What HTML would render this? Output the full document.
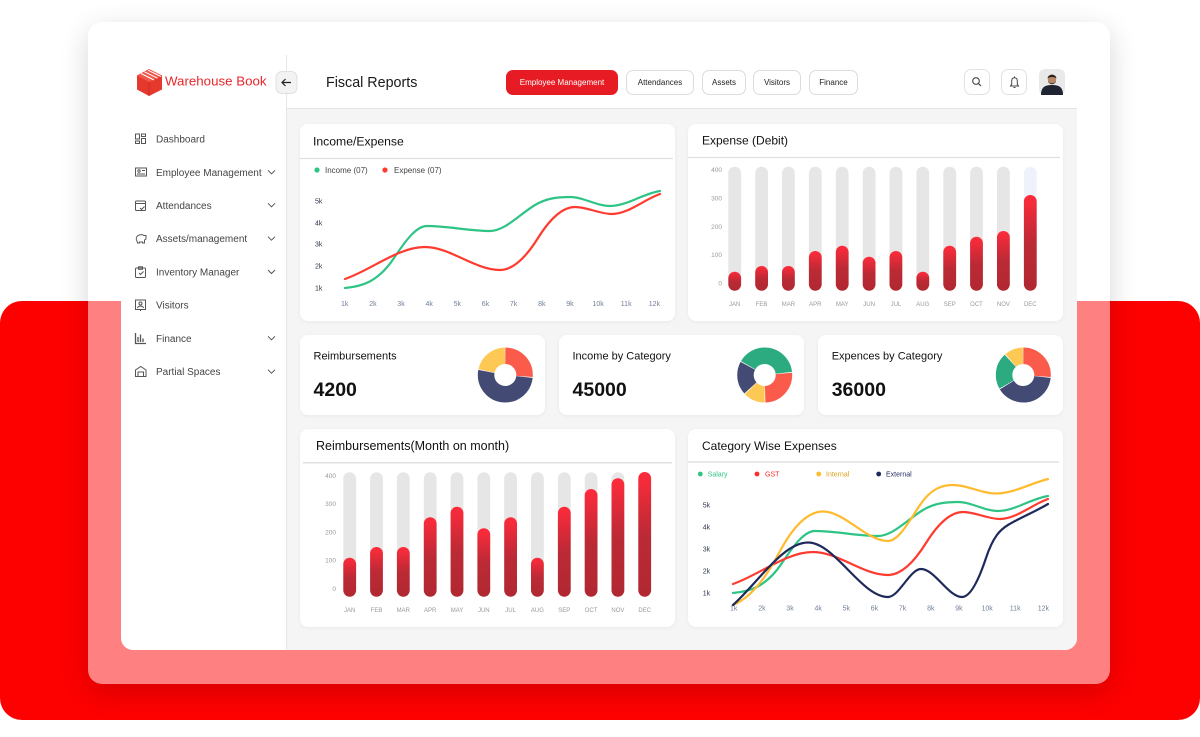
<!DOCTYPE html>
<html><head><meta charset="utf-8">
<style>
*{margin:0;padding:0;box-sizing:border-box}
body{width:1200px;height:737px;overflow:hidden;background:#fff;position:relative;font-family:"Liberation Sans",sans-serif}
.abs{position:absolute}
.redbg{left:0;top:301px;width:1200px;height:419px;background:#fd0000;border-radius:22px}
.frame{left:88px;top:22px;width:1022px;height:662px;border-radius:14px;background:rgba(255,255,255,.5);box-shadow:0 8px 28px rgba(0,0,0,.16)}
.panel{left:121px;top:55px;width:956px;height:595px;background:#fff;border-radius:12px}
.main{left:287px;top:109px;width:790px;height:541px;background:#f5f5f5;border-bottom-right-radius:12px}
.card{position:absolute;background:#fff;border-radius:8px;box-shadow:0 1px 4px rgba(0,0,0,.05)}
.btn{position:absolute;height:25px;top:70px;border:1px solid #dcdcdc;border-radius:7px;background:#fff;font-size:8px;color:#222;display:flex;align-items:center;justify-content:center;white-space:nowrap}
.ib{position:absolute;top:69px;width:26px;height:26px;border:1px solid #e2e2e2;border-radius:7px;background:#fff}
</style></head><body>
<div class="abs redbg"></div>
<div class="abs frame"></div>
<div class="abs panel"></div>
<div class="abs main"></div>
<div class="abs" style="left:286px;top:55px;width:1px;height:595px;background:#e6e6e6"></div>
<div class="abs" style="left:287px;top:108px;width:790px;height:1px;background:#e4e4e4"></div>

<div class="card" style="left:300px;top:124px;width:375px;height:197px"></div>
<div class="card" style="left:688px;top:124px;width:375px;height:197px"></div>
<div class="card" style="left:300px;top:335px;width:245px;height:80px"></div>
<div class="card" style="left:559px;top:335px;width:245px;height:80px"></div>
<div class="card" style="left:818px;top:335px;width:245px;height:80px"></div>
<div class="card" style="left:300px;top:429px;width:375px;height:198px"></div>
<div class="card" style="left:688px;top:429px;width:375px;height:198px"></div>

<div class="btn" style="left:506px;width:112px;background:#e61b24;border-color:#e61b24;color:#fff">Employee Management</div>
<div class="btn" style="left:626px;width:68px">Attendances</div>
<div class="btn" style="left:702px;width:44px">Assets</div>
<div class="btn" style="left:753px;width:48px">Visitors</div>
<div class="btn" style="left:809px;width:49px">Finance</div>
<div class="ib" style="left:964px"></div>
<div class="ib" style="left:1001px"></div>
<div class="abs" style="left:1039px;top:69px;width:26px;height:26px;border-radius:6px;background:#e9e9e9;overflow:hidden"></div>

<svg class="abs" style="left:0;top:0" width="1200" height="737" viewBox="0 0 1200 737">
<defs>
<linearGradient id="bg" x1="0" y1="0" x2="0" y2="1">
<stop offset="0" stop-color="#ff2b3b"/><stop offset=".5" stop-color="#bb2a35"/><stop offset="1" stop-color="#b12831"/>
</linearGradient>
</defs>

<!-- logo -->
<polygon points="149,69 162,75.5 162,89.5 149,96 137,89.5 137,75.5" fill="#e5392e"/>
<polygon points="149,69 162,75.5 149,82 137,75.5" fill="#f0574a"/>
<path d="M141,73.5 L154,80 M144.5,71.8 L157.5,78.2 M148,70.2 L161,76.5" stroke="#fff" stroke-width="1"/>
<line x1="149" y1="82" x2="149" y2="96" stroke="#c92a22" stroke-width=".8"/>
<text x="165" y="85.4" font-size="13.3" fill="#e8262b">Warehouse Book</text>

<!-- back button -->
<rect x="276" y="71.5" width="21" height="22" rx="6" fill="#f3f3f3" stroke="#e0e0e0"/>
<path d="M291,82.5 H282 M285.5,79 L282,82.5 L285.5,86" stroke="#222" stroke-width="1.2" fill="none"/>

<!-- header -->
<text x="326" y="87" font-size="14.3" fill="#1a1a1a">Fiscal Reports</text>
<circle cx="976" cy="81" r="3.3" fill="none" stroke="#444" stroke-width="1.1"/>
<line x1="978.4" y1="83.4" x2="981" y2="86" stroke="#444" stroke-width="1.2"/>
<path d="M1010.5,86 H1018.5 L1017.3,84.3 V80.5 A2.8,2.8 0 0 0 1011.7,80.5 V84.3 Z M1013.5,87.5 H1015.5" fill="none" stroke="#444" stroke-width="1"/>
<line x1="1014.5" y1="76.5" x2="1014.5" y2="77.7" stroke="#444" stroke-width="1"/>
<!-- avatar -->
<path d="M1041,95 C1041,87 1045,85 1052,85 C1059,85 1063,87 1063,95 Z" fill="#1f2433"/>
<ellipse cx="1052" cy="79.5" rx="4.2" ry="5" fill="#b88868"/>
<path d="M1047.6,78.5 C1047.6,73.5 1056.4,73.5 1056.4,78.5 C1055,76.5 1049,76.5 1047.6,78.5Z" fill="#2b211c"/>
<path d="M1048,81 C1048.5,85 1055.5,85 1056,81 C1055,84 1049,84 1048,81Z" fill="#3a2a22"/>

<!-- sidebar -->
<g font-size="10" fill="#444">
<text x="156" y="142.5">Dashboard</text>
<text x="156" y="175.8">Employee Management</text>
<text x="156" y="208.8">Attendances</text>
<text x="156" y="242.2">Assets/management</text>
<text x="156" y="275.5">Inventory Manager</text>
<text x="156" y="308.5">Visitors</text>
<text x="156" y="341.8">Finance</text>
<text x="156" y="375.2">Partial Spaces</text>
</g>
<g fill="none" stroke="#555" stroke-width="1">
<rect x="135.5" y="134" width="4" height="5"/><rect x="141.5" y="134" width="4" height="2.5"/><rect x="135.5" y="141" width="4" height="2.5"/><rect x="141.5" y="138.5" width="4" height="5"/>
<rect x="135.5" y="168" width="11" height="8"/><circle cx="139" cy="171" r="1.2"/><line x1="142" y1="170.5" x2="145" y2="170.5"/><line x1="137" y1="174" x2="145" y2="174"/>
<rect x="135.5" y="201" width="10" height="9.5" rx="1"/><line x1="135.5" y1="203.5" x2="145.5" y2="203.5"/><path d="M140,208 l1.5,1.5 l3,-3"/>
<path d="M137,241 C134,236 141,233 144,235.5 L146,235.5 L146,239 L144.5,240 L144.5,243 L142.5,243 L142.5,242 L139.5,242 L139.5,243 L137.5,243 Z"/>
<rect x="135.5" y="268" width="10" height="9.5" rx="1"/><rect x="138.5" y="266.8" width="4" height="2.5"/><path d="M139,273 l1.5,1.5 l3,-3"/>
<rect x="135.5" y="300" width="10" height="9.5"/><circle cx="140.5" cy="303.5" r="1.5"/><path d="M137.5,308 C138,305.5 143,305.5 143.5,308"/><line x1="140.5" y1="309.5" x2="140.5" y2="311"/>
<path d="M135.5,333 V343.5 H146 M138,342 V337 M140.5,342 V334.5 M143,342 V338.5" stroke-width="1.3"/>
<path d="M135.5,376.5 V370 L140.8,366.5 L146,370 V376.5 Z M138,376.5 V372 H143.5 V376.5"/>
</g>
<g fill="none" stroke="#555" stroke-width="1">
<polyline points="268,170.3 271.5,173.8 275,170.3"/>
<polyline points="268,203.3 271.5,206.8 275,203.3"/>
<polyline points="268,236.7 271.5,240.2 275,236.7"/>
<polyline points="268,270 271.5,273.5 275,270"/>
<polyline points="268,336.3 271.5,339.8 275,336.3"/>
<polyline points="268,369.7 271.5,373.2 275,369.7"/>
</g>

<!-- ===== Card 1: Income/Expense ===== -->
<text x="313" y="145.5" font-size="12.2" fill="#111">Income/Expense</text>
<line x1="300" y1="158.5" x2="673" y2="158.5" stroke="#e0e0e0" stroke-width="1.3"/>
<circle cx="317" cy="170" r="2.6" fill="#2ec486"/>
<text x="325" y="172.8" font-size="8" fill="#444">Income (07)</text>
<circle cx="385" cy="170" r="2.6" fill="#ff3b30"/>
<text x="394" y="172.8" font-size="8" fill="#444">Expense (07)</text>
<g font-size="7" fill="#2d3748">
<text x="315" y="203.5">5k</text><text x="315" y="225.5">4k</text><text x="315" y="246.5">3k</text><text x="315" y="268.5">2k</text><text x="315" y="290.5">1k</text>
</g>
<g font-size="7" fill="#718096" text-anchor="middle">
<text x="344.7" y="306">1k</text><text x="372.9" y="306">2k</text><text x="401" y="306">3k</text><text x="429.2" y="306">4k</text><text x="457.3" y="306">5k</text><text x="485.5" y="306">6k</text><text x="513.6" y="306">7k</text><text x="541.8" y="306">8k</text><text x="569.9" y="306">9k</text><text x="598.1" y="306">10k</text><text x="626.2" y="306">11k</text><text x="654.4" y="306">12k</text>
</g>
<g fill="none" stroke-width="2.2" stroke-linecap="round">
<path id="g1" stroke="#2ec486" d="M345,288 C361.3,286.4 377.7,282.5 394,258 C405,241.5 416,226 427,226 C448,226 469,231 490,231 C505,231 520,214 535,205 C546.7,198 558.3,197 570,197 C583.3,197 596.7,206 610,206 C626.7,206 643.3,193.5 660,191"/>
<path stroke="#ff3b30" d="M345,279 C371.7,269.7 398.3,247 425,247 C450,247 475,270 500,270 C512.7,270 525.3,258.3 538,238 C550.3,218.3 562.7,207 575,207 C587.3,207 599.7,214 612,214 C628,214 644,199.6 660,194"/>
</g>

<!-- ===== Card 2: Expense (Debit) ===== -->
<text x="702" y="144.5" font-size="12" fill="#111">Expense (Debit)</text>
<line x1="688" y1="157.5" x2="1060" y2="157.5" stroke="#e0e0e0" stroke-width="1.3"/>
<g font-size="6.5" fill="#999" text-anchor="end">
<text x="722" y="172.2">400</text><text x="722" y="200.5">300</text><text x="722" y="228.9">200</text><text x="722" y="257.2">100</text><text x="722" y="285.5">0</text>
</g>
<g fill="#e6e6e6">
<rect x="728.3" y="166.7" width="12.8" height="124" rx="6.4"/>
<rect x="755.2" y="166.7" width="12.8" height="124" rx="6.4"/>
<rect x="782" y="166.7" width="12.8" height="124" rx="6.4"/>
<rect x="808.9" y="166.7" width="12.8" height="124" rx="6.4"/>
<rect x="835.8" y="166.7" width="12.8" height="124" rx="6.4"/>
<rect x="862.7" y="166.7" width="12.8" height="124" rx="6.4"/>
<rect x="889.5" y="166.7" width="12.8" height="124" rx="6.4"/>
<rect x="916.4" y="166.7" width="12.8" height="124" rx="6.4"/>
<rect x="943.3" y="166.7" width="12.8" height="124" rx="6.4"/>
<rect x="970.1" y="166.7" width="12.8" height="124" rx="6.4"/>
<rect x="997" y="166.7" width="12.8" height="124" rx="6.4"/>
<rect x="1023.9" y="166.7" width="12.8" height="124" rx="6.4" fill="#eef3fb"/>
</g>
<g fill="url(#bg)">
<rect x="728.3" y="271.7" width="12.8" height="19" rx="6.4"/>
<rect x="755.2" y="266" width="12.8" height="24.7" rx="6.4"/>
<rect x="782" y="266" width="12.8" height="24.7" rx="6.4"/>
<rect x="808.9" y="251" width="12.8" height="39.7" rx="6.4"/>
<rect x="835.8" y="245.7" width="12.8" height="45" rx="6.4"/>
<rect x="862.7" y="256.7" width="12.8" height="34" rx="6.4"/>
<rect x="889.5" y="251" width="12.8" height="39.7" rx="6.4"/>
<rect x="916.4" y="271.7" width="12.8" height="19" rx="6.4"/>
<rect x="943.3" y="245.7" width="12.8" height="45" rx="6.4"/>
<rect x="970.1" y="236.7" width="12.8" height="54" rx="6.4"/>
<rect x="997" y="231" width="12.8" height="59.7" rx="6.4"/>
<rect x="1023.9" y="195" width="12.8" height="95.7" rx="6.4"/>
</g>
<g font-size="6" fill="#999" text-anchor="middle">
<text x="734.7" y="306">JAN</text><text x="761.6" y="306">FEB</text><text x="788.4" y="306">MAR</text><text x="815.3" y="306">APR</text><text x="842.2" y="306">MAY</text><text x="869.1" y="306">JUN</text><text x="895.9" y="306">JUL</text><text x="922.8" y="306">AUG</text><text x="949.7" y="306">SEP</text><text x="976.5" y="306">OCT</text><text x="1003.4" y="306">NOV</text><text x="1030.3" y="306">DEC</text>
</g>

<!-- ===== Donut cards ===== -->
<g font-size="11" fill="#111">
<text x="313.5" y="359.6">Reimbursements</text>
<text x="572.5" y="359.6">Income by Category</text>
<text x="831.7" y="359.6">Expences by Category</text>
</g>
<g font-size="19.5" font-weight="bold" fill="#111">
<text x="313.5" y="396">4200</text>
<text x="572.5" y="396">45000</text>
<text x="831.7" y="396">36000</text>
</g>
<g fill="none" stroke-width="16.5">
<g transform="rotate(-90 505.3 375)">
<circle cx="505.3" cy="375" r="19.25" stroke="#fb5b4b" stroke-dasharray="31.65 89.3" stroke-dashoffset="0"/>
<circle cx="505.3" cy="375" r="19.25" stroke="#434b75" stroke-dasharray="61.89 59.06" stroke-dashoffset="-32.25"/>
<circle cx="505.3" cy="375" r="19.25" stroke="#fec855" stroke-dasharray="25.6 95.35" stroke-dashoffset="-94.74"/>
</g>
<g transform="rotate(-90 764.7 375)">
<circle cx="764.7" cy="375" r="19.25" stroke="#2dab80" stroke-dasharray="48.12 72.83" stroke-dashoffset="-100.79"/>
<circle cx="764.7" cy="375" r="19.25" stroke="#fb5b4b" stroke-dasharray="31.32 89.63" stroke-dashoffset="-28.56"/>
<circle cx="764.7" cy="375" r="19.25" stroke="#fec855" stroke-dasharray="15.36 105.59" stroke-dashoffset="-60.48"/>
<circle cx="764.7" cy="375" r="19.25" stroke="#434b75" stroke-dasharray="23.76 97.19" stroke-dashoffset="-76.43"/>
</g>
<g transform="rotate(-90 1023.3 375)">
<circle cx="1023.3" cy="375" r="19.25" stroke="#fb5b4b" stroke-dasharray="31.65 89.3" stroke-dashoffset="0"/>
<circle cx="1023.3" cy="375" r="19.25" stroke="#434b75" stroke-dasharray="47.78 73.17" stroke-dashoffset="-32.25"/>
<circle cx="1023.3" cy="375" r="19.25" stroke="#2dab80" stroke-dasharray="25.84 95.11" stroke-dashoffset="-80.63"/>
<circle cx="1023.3" cy="375" r="19.25" stroke="#fec855" stroke-dasharray="13.28 107.67" stroke-dashoffset="-107.07"/>
</g>
</g>

<!-- ===== Card 3: Reimbursements(Month on month) ===== -->
<text x="316" y="450.2" font-size="12.5" fill="#111">Reimbursements(Month on month)</text>
<line x1="303" y1="462.7" x2="672" y2="462.7" stroke="#e0e0e0" stroke-width="1.5"/>
<g font-size="6.5" fill="#999" text-anchor="end">
<text x="336" y="477.9">400</text><text x="336" y="506.2">300</text><text x="336" y="534.5">200</text><text x="336" y="562.5">100</text><text x="336" y="590.9">0</text>
</g>
<g fill="#e6e6e6">
<rect x="343.3" y="472.3" width="12.8" height="124.4" rx="6.4"/>
<rect x="370.1" y="472.3" width="12.8" height="124.4" rx="6.4"/>
<rect x="396.9" y="472.3" width="12.8" height="124.4" rx="6.4"/>
<rect x="423.8" y="472.3" width="12.8" height="124.4" rx="6.4"/>
<rect x="450.6" y="472.3" width="12.8" height="124.4" rx="6.4"/>
<rect x="477.4" y="472.3" width="12.8" height="124.4" rx="6.4"/>
<rect x="504.2" y="472.3" width="12.8" height="124.4" rx="6.4"/>
<rect x="531" y="472.3" width="12.8" height="124.4" rx="6.4"/>
<rect x="557.9" y="472.3" width="12.8" height="124.4" rx="6.4"/>
<rect x="584.7" y="472.3" width="12.8" height="124.4" rx="6.4"/>
<rect x="611.5" y="472.3" width="12.8" height="124.4" rx="6.4"/>
<rect x="638.3" y="472.3" width="12.8" height="124.4" rx="6.4"/>
</g>
<g fill="url(#bg)">
<rect x="343.3" y="557.7" width="12.8" height="39" rx="6.4"/>
<rect x="370.1" y="547" width="12.8" height="49.7" rx="6.4"/>
<rect x="396.9" y="547" width="12.8" height="49.7" rx="6.4"/>
<rect x="423.8" y="517.3" width="12.8" height="79.4" rx="6.4"/>
<rect x="450.6" y="506.7" width="12.8" height="90" rx="6.4"/>
<rect x="477.4" y="528.3" width="12.8" height="68.4" rx="6.4"/>
<rect x="504.2" y="517.3" width="12.8" height="79.4" rx="6.4"/>
<rect x="531" y="557.7" width="12.8" height="39" rx="6.4"/>
<rect x="557.9" y="506.7" width="12.8" height="90" rx="6.4"/>
<rect x="584.7" y="489" width="12.8" height="107.7" rx="6.4"/>
<rect x="611.5" y="478.3" width="12.8" height="118.4" rx="6.4"/>
<rect x="638.3" y="472" width="12.8" height="124.7" rx="6.4"/>
</g>
<g font-size="6" fill="#999" text-anchor="middle">
<text x="349.7" y="612">JAN</text><text x="376.5" y="612">FEB</text><text x="403.3" y="612">MAR</text><text x="430.2" y="612">APR</text><text x="457" y="612">MAY</text><text x="483.8" y="612">JUN</text><text x="510.6" y="612">JUL</text><text x="537.4" y="612">AUG</text><text x="564.3" y="612">SEP</text><text x="591.1" y="612">OCT</text><text x="617.9" y="612">NOV</text><text x="644.7" y="612">DEC</text>
</g>

<!-- ===== Card 4: Category Wise Expenses ===== -->
<text x="702" y="450.2" font-size="12" fill="#111">Category Wise Expenses</text>
<line x1="688" y1="462" x2="1059" y2="462" stroke="#e0e0e0" stroke-width="1.5"/>
<circle cx="700.3" cy="474" r="2.4" fill="#2ec486"/><text x="707.7" y="476.5" font-size="7" fill="#2ec486">Salary</text>
<circle cx="757" cy="474" r="2.4" fill="#ff2b2b"/><text x="765" y="476.5" font-size="7" fill="#ff2b2b">GST</text>
<circle cx="818.7" cy="474" r="2.4" fill="#fdbb2d"/><text x="826" y="476.5" font-size="7" fill="#d9a21b">Internal</text>
<circle cx="878.7" cy="474" r="2.4" fill="#1f2a5c"/><text x="886" y="476.5" font-size="7" fill="#1f2a5c">External</text>
<g font-size="7" fill="#2d3748">
<text x="702.7" y="507.5">5k</text><text x="702.7" y="529.5">4k</text><text x="702.7" y="551.5">3k</text><text x="702.7" y="573.5">2k</text><text x="702.7" y="595.5">1k</text>
</g>
<g font-size="7" fill="#718096" text-anchor="middle">
<text x="733.7" y="610.5">1k</text><text x="761.9" y="610.5">2k</text><text x="790" y="610.5">3k</text><text x="818.2" y="610.5">4k</text><text x="846.3" y="610.5">5k</text><text x="874.5" y="610.5">6k</text><text x="902.6" y="610.5">7k</text><text x="930.8" y="610.5">8k</text><text x="958.9" y="610.5">9k</text><text x="987.1" y="610.5">10k</text><text x="1015.2" y="610.5">11k</text><text x="1043.4" y="610.5">12k</text>
</g>
<g fill="none" stroke-width="2.2" stroke-linecap="round" transform="translate(388 305)">
<path stroke="#2ec486" d="M345,288 C361.3,286.4 377.7,282.5 394,258 C405,241.5 416,226 427,226 C448,226 469,231 490,231 C505,231 520,214 535,205 C546.7,198 558.3,197 570,197 C583.3,197 596.7,206 610,206 C626.7,206 643.3,193.5 660,191"/>
<path stroke="#ff3b30" d="M345,279 C371.7,269.7 398.3,247 425,247 C450,247 475,270 500,270 C512.7,270 525.3,258.3 538,238 C550.3,218.3 562.7,207 575,207 C587.3,207 599.7,214 612,214 C628,214 644,199.6 660,194"/>
<path stroke="#fdbb2d" d="M345,300 C360.3,293.9 375.7,277 391,248 C405.7,220.1 420.3,206.5 435,206.5 C456.7,206.5 478.3,236 500,236 C510.7,236 521.3,216 532,200 C543,183.5 554,180 565,180 C579.3,180 593.7,188.5 608,188.5 C625.3,188.5 642.7,178.3 660,174"/>
<path stroke="#1f2a5c" d="M345,300 C370,277.5 395,237.5 420,237.5 C446.7,237.5 473.3,292 500,292 C511,292 522,264 533,264 C546.7,264 560.3,292 574,292 C582,292 590,277 598,253 C605.3,231 612.7,224.4 620,220 C633.3,212 646.7,207 660,199"/>
</g>
</svg>
</body></html>
